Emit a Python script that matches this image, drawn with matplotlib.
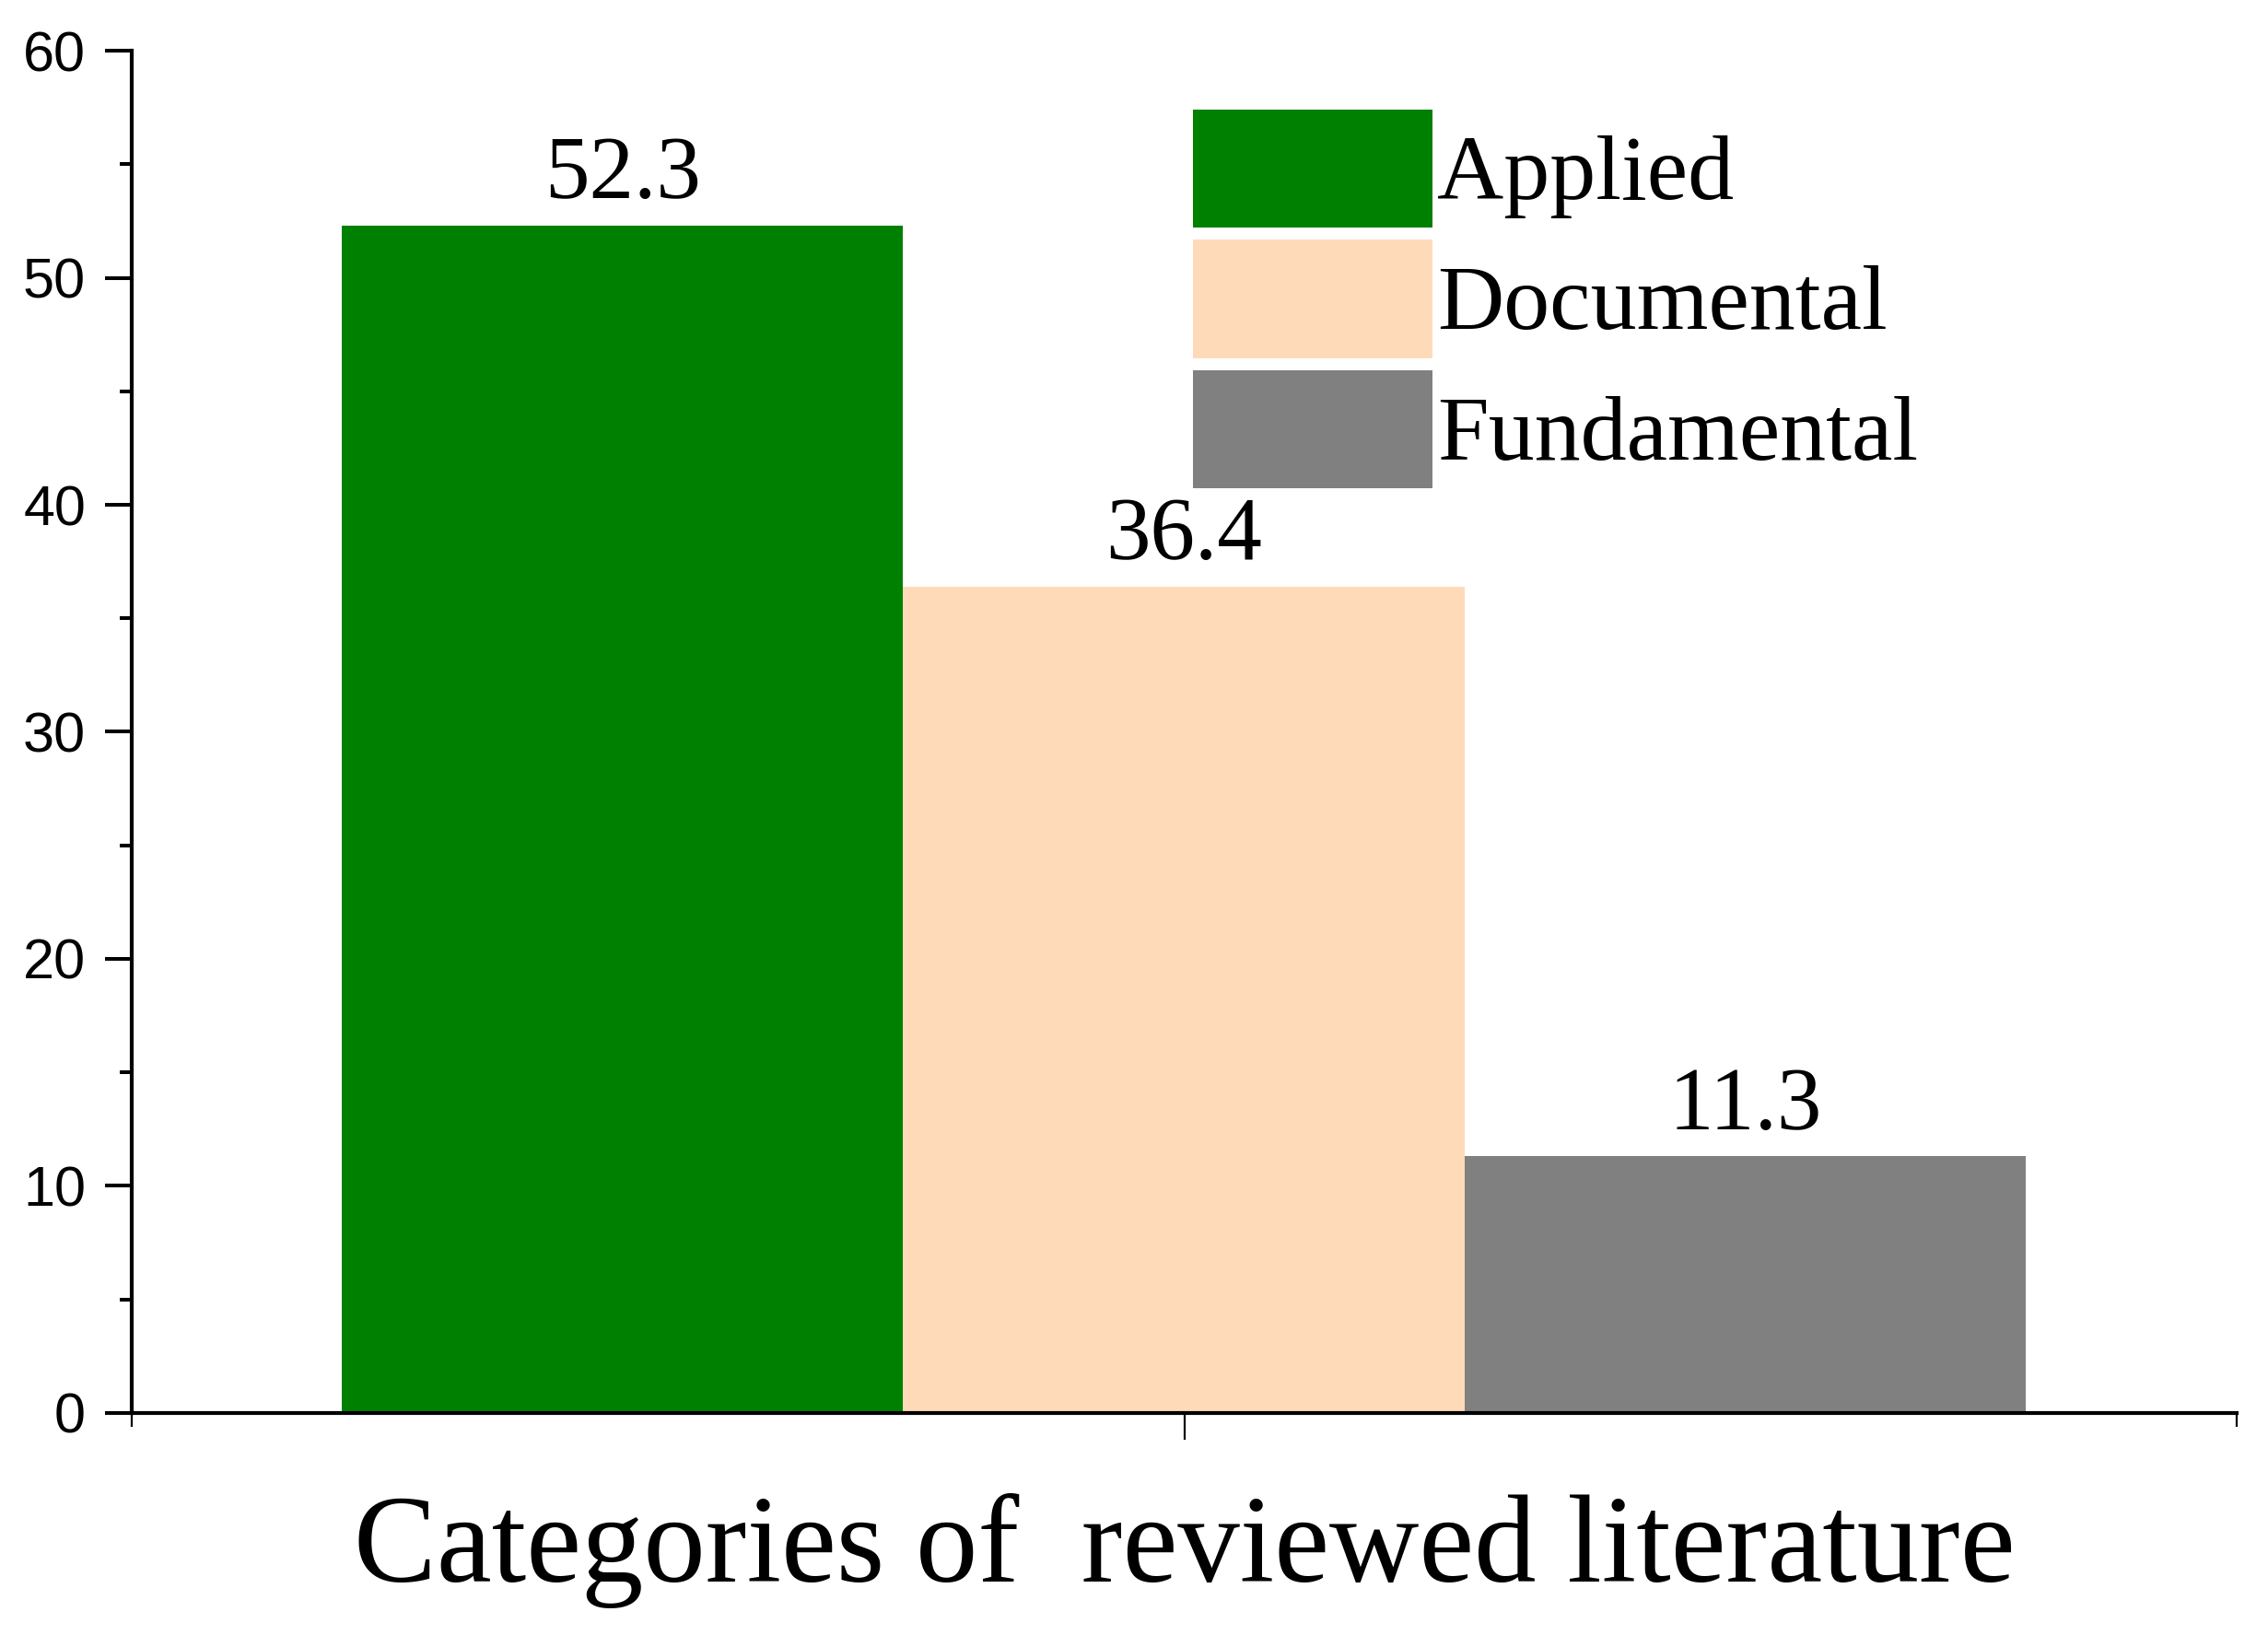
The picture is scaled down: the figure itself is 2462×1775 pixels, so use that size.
import matplotlib.pyplot as plt
from matplotlib.ticker import MultipleLocator, FixedLocator

# Data
categories = ["Applied", "Documental", "Fundamental"]
shares = [52.3, 36.4, 11.3]
bar_colors = ["#008000", "#FFDAB9", "#808080"]
positions = [0.2332, 0.4998, 0.7664]

fig = plt.figure(figsize=(24.62, 17.75), dpi=100)
ax = fig.add_axes([0.0581, 0.1358, 0.9281, 0.8332])

serif = "Liberation Serif"
sans = "Liberation Sans"

bars = ax.bar(positions, shares, width=0.2666, color=bar_colors,
              label=categories, linewidth=0)
ax.bar_label(bars, labels=[f"{v:.1f}" for v in shares], padding=6,
             fontsize=70, family=serif)

ax.set_xlim(0, 1)
ax.set_ylim(0, 60)

# spines
for side in ["top", "right"]:
    ax.spines[side].set_visible(False)
for side in ["left", "bottom"]:
    ax.spines[side].set_linewidth(3)

# y ticks
ax.yaxis.set_major_locator(MultipleLocator(10))
ax.yaxis.set_minor_locator(MultipleLocator(5))
ax.tick_params(axis="y", which="major", direction="out", length=21, width=2.9,
               pad=15, labelsize=44)
ax.tick_params(axis="y", which="minor", direction="out", length=9.5, width=2.9)
for lab in ax.get_yticklabels():
    lab.set_family(sans)

# x ticks: one at the centre, short ones at the ends
ax.xaxis.set_major_locator(FixedLocator([0.5]))
ax.xaxis.set_minor_locator(FixedLocator([0.0, 1.0]))
ax.tick_params(axis="x", which="major", direction="out", length=21, width=1.6,
               labelbottom=False)
ax.tick_params(axis="x", which="minor", direction="out", length=11, width=1.6)

ax.set_xlabel("Categories of  reviewed literature", fontsize=97, family=serif,
              labelpad=42)

leg = ax.legend(loc="upper left", bbox_to_anchor=(0.504, 0.957), frameon=False,
                borderpad=0, borderaxespad=0, handlelength=2.6,
                handleheight=1.6, handletextpad=0.05, labelspacing=0.13,
                prop={"family": serif, "size": 72})

fig.savefig("out.png", dpi=100)
